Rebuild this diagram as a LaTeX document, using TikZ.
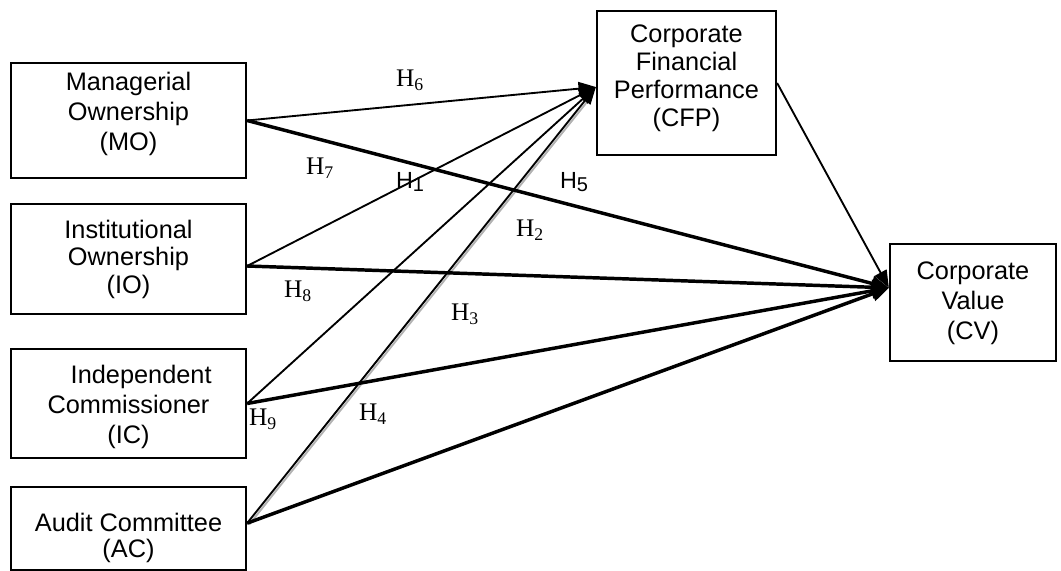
\documentclass[tikz,border=0pt]{standalone}
\usepackage{fontspec}
\setmainfont{Liberation Sans}
\newfontfamily\hypfont{Liberation Serif}
\usetikzlibrary{arrows.meta,positioning}

% lift the lines of a box text: #1 raise, #2 baselineskip, #3 lines
\newcommand{\lift}[3]{\fontsize{19}{#2}\selectfont\raisebox{#1}[\height][\depth]{\begin{tabular}{@{}c@{}}#3\end{tabular}}}

\begin{document}
\begin{tikzpicture}[
    x=0.75pt,y=-0.75pt,
    vbox/.style={draw,line width=1.7pt,minimum width=176.25pt,inner sep=0pt},
    tarr/.style={-{Triangle[length=13pt,width=10pt]},line width=1.4pt},
    karr/.style={-{Triangle[length=13pt,width=11pt]},line width=2.6pt},
    hlab/.style={font=\hypfont\fontsize{19}{19}\selectfont},
    slab/.style={font=\fontsize{17.5}{17.5}\selectfont}
    ]
    \useasboundingbox (0,0) rectangle (1061,571);
    % variables
    \node[vbox,minimum height=86.25pt] (MO) at (128.5,120.5) {\lift{4.75pt}{22.5pt}{Managerial\\Ownership\\(MO)}};
    \node[vbox,minimum height=82.5pt] (IO) at (128.5,259) {\lift{-1pt}{20.5pt}{Institutional\\Ownership\\(IO)}};
    \node[vbox,minimum height=81.75pt] (IC) at (128.5,403.5) {\lift{-3pt}{22.5pt}{\hspace*{1em}Independent\\Commissioner\\(IC)}};
    \node[vbox,minimum height=62.25pt] (AC) at (128.5,528.5) {\lift{-8pt}{20pt}{Audit Committee\\(AC)}};
    \node[vbox,minimum width=134.25pt,minimum height=108pt] (CFP) at (686.5,83) {\lift{3pt}{20.8pt}{Corporate\\Financial\\Performance\\(CFP)}};
    \node[vbox,minimum width=124.5pt,minimum height=87.75pt] (CV) at (973,302.5) {\lift{-0.5pt}{22.5pt}{Corporate\\Value\\(CV)}};
    \coordinate (cfpin) at ([yshift=-3pt]CFP.west);
    \coordinate (cvin) at ([yshift=11pt]CV.west);
    % paths
    \draw[gray!60,line width=1.4pt,shorten >=12pt] ([xshift=1.6pt,yshift=3.1pt]AC.east) -- ([xshift=1.6pt,yshift=-0.9pt]cfpin);
    \draw[tarr] (MO.east) -- (cfpin);
    \draw[tarr] ([yshift=-5.25pt]IO.east) -- (cfpin);
    \draw[tarr] (IC.east) -- (cfpin);
    \draw[tarr] ([yshift=4pt]AC.east) -- (cfpin);
    \draw[karr] (MO.east) -- (cvin);
    \draw[karr] ([yshift=-5.25pt]IO.east) -- (cvin);
    \draw[karr] (IC.east) -- (cvin);
    \draw[karr] ([yshift=4pt]AC.east) -- (cvin);
    \draw[tarr] (CFP.east) -- (cvin);
    % hypotheses
    \node[hlab] (h6) at (410,80) {H\textsubscript{6}};
    \node[hlab] (h7) at (320,168) {H\textsubscript{7}};
    \node[slab] (h1) at (410,182) {H\raisebox{-2pt}{\fontsize{15}{15}\selectfont 1}};
    \node[slab] (h5) at (574,182) {H\raisebox{-2pt}{\fontsize{15}{15}\selectfont 5}};
    \node[hlab] (h2) at (530,230) {H\textsubscript{2}};
    \node[hlab] (h8) at (298,291) {H\textsubscript{8}};
    \node[hlab] (h3) at (465,314) {H\textsubscript{3}};
    \node[hlab] (h9) at (263,419) {H\textsubscript{9}};
    \node[hlab] (h4) at (373,414) {H\textsubscript{4}};
\end{tikzpicture}
\end{document}
